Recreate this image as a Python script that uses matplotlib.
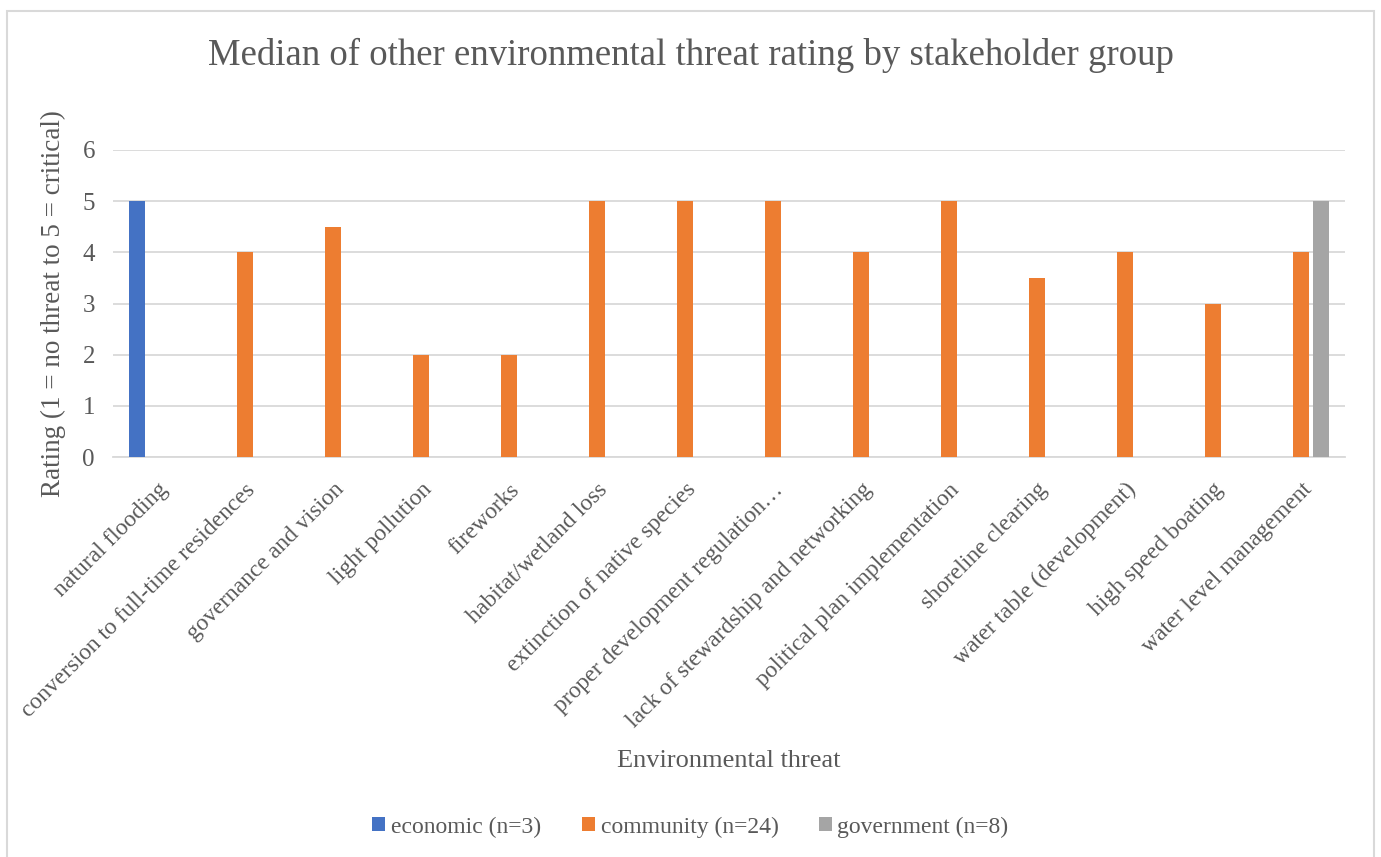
import matplotlib.pyplot as plt
import matplotlib.patches as patches
import numpy as np

# categories and series values (median rating per stakeholder group)
threats = ['natural flooding', 'conversion to full-time residences', 'governance and vision',
           'light pollution', 'fireworks', 'habitat/wetland loss', 'extinction of native species',
           'proper development regulation\u2026', 'lack of stewardship and networking',
           'political plan implementation', 'shoreline clearing', 'water table (development)',
           'high speed boating', 'water level management']
economic = [5, np.nan, np.nan, np.nan, np.nan, np.nan, np.nan, np.nan, np.nan, np.nan, np.nan, np.nan, np.nan, np.nan]
community = [np.nan, 4, 4.5, 2, 2, 5, 5, 5, 4, 5, 3.5, 4, 3, 4]
government = [np.nan, np.nan, np.nan, np.nan, np.nan, np.nan, np.nan, np.nan, np.nan, np.nan, np.nan, np.nan, np.nan, 5]
series_names = ['economic (n=3)', 'community (n=24)', 'government (n=8)']
series_colors = ['#4472C4', '#ED7D31', '#A5A5A5']

plt.rcParams['font.family'] = ['Liberation Serif', 'DejaVu Serif']
text_color = '#595959'
grid_color = '#D9D9D9'

fig = plt.figure(figsize=(13.81, 8.57), dpi=100)
W, H = 1381, 857

#chart border
fig.patches.append(patches.Rectangle((7 / W, -0.01), (1374 - 7) / W, 1 - 11 / H + 0.01,
                                     transform=fig.transFigure, fill=False,
                                     edgecolor=grid_color, linewidth=1.5))

ax = fig.add_axes([113 / W, 1 - 457 / H, (1345 - 113) / W, (457 - 150) / H])

x = np.arange(len(threats))
bar_w = 0.185
step = 0.23
for i, (vals, name, col) in enumerate(zip([economic, community, government], series_names, series_colors)):
    ax.bar(x + (i - 1) * step, vals, width=bar_w, color=col, label=name, zorder=3)

ax.set_xlim(-0.5, len(threats) - 0.5)
ax.set_ylim(0, 6)
ax.set_yticks(range(0, 7))
ax.yaxis.grid(True, color=grid_color, linewidth=1.3, zorder=0)
ax.set_axisbelow(True)
for s in ['top', 'right', 'left']:
    ax.spines[s].set_visible(False)
ax.spines['bottom'].set_color(grid_color)
ax.spines['bottom'].set_linewidth(1.3)
ax.tick_params(axis='both', length=0, colors=text_color)
ax.tick_params(axis='y', pad=13, labelsize=18)

ax.set_xticks(x)
ax.set_xticklabels(threats, rotation=45, ha='right', va='top', rotation_mode='anchor',
                   fontsize=17, color=text_color)
ax.tick_params(axis='x', pad=16)

ax.set_ylabel('Rating (1 = no threat to 5 = critical)', fontsize=19.5, color=text_color, labelpad=12)
ax.set_xlabel('Environmental threat', fontsize=19, color=text_color)
ax.xaxis.set_label_coords(0.5, -0.955)

fig.text(0.5, 1 - 55 / H, 'Median of other environmental threat rating by stakeholder group',
         ha='center', va='center', fontsize=26.5, color=text_color)

fig.legend(loc='center', bbox_to_anchor=(0.5, 1 - 827 / H), ncol=3, frameon=False,
           fontsize=17, labelcolor=text_color, handlelength=0.55, handleheight=0.55,
           handletextpad=0.25, columnspacing=1.7)

fig.savefig('out.png', dpi=100, facecolor='white')
